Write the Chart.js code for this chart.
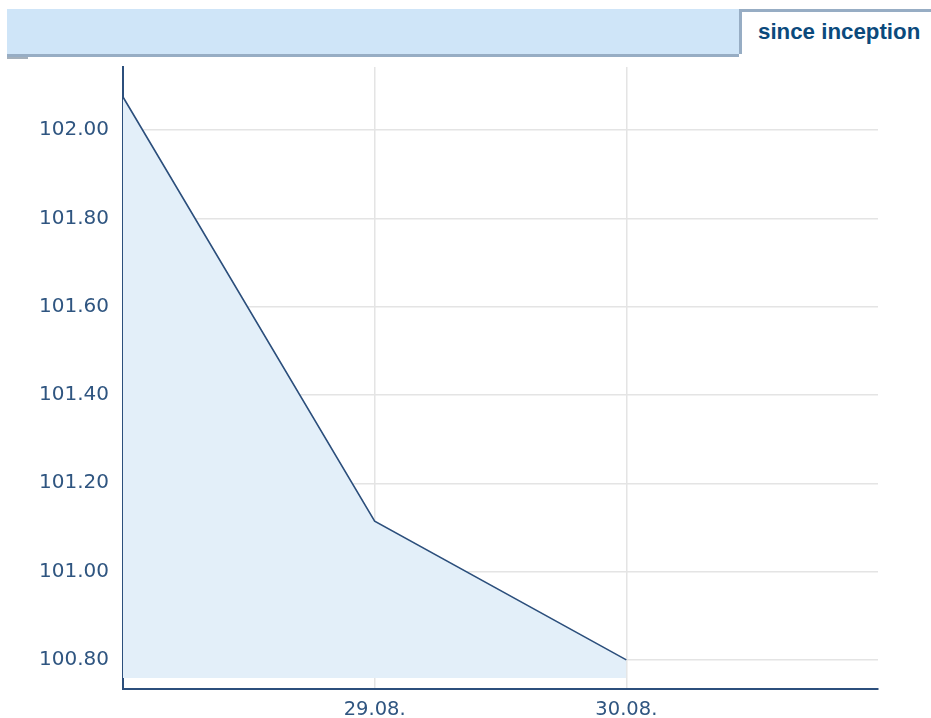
<!DOCTYPE html>
<html>
<head>
<meta charset="utf-8">
<script src="https://cdn.jsdelivr.net/npm/chart.js@4.4.1/dist/chart.umd.min.js"></script>
<style>
  html, body { margin: 0; padding: 0; background: #fff; width: 931px; height: 718px; overflow: hidden; }
  #bar { position: absolute; left: 7px; top: 9px; width: 732px; height: 45px; background: #cfe5f8; border-bottom: 3px solid #97adc4; }
  #tab { position: absolute; left: 739px; top: 9px; height: 45px; background: #fff; border-left: 3px solid #97adc4; border-top: 3px solid #97adc4;
         font-family: "Liberation Sans", Arial, sans-serif; font-weight: bold; font-size: 22.3px; color: #0b4a7c; line-height: 40px; padding-left: 16px; box-sizing: border-box; width: 192px; white-space: nowrap; }
  #shadow { position: absolute; left: 7px; top: 57px; width: 21px; height: 2px; background: #a5b0bb; }
  #wrap { position: absolute; left: 0; top: 0; width: 931px; height: 718px; }
</style>
</head>
<body>
<div id="bar"></div>
<div id="shadow"></div>
<div id="tab">since inception</div>
<div id="wrap"><canvas id="c"></canvas></div>
<script>
const dates = ['', '29.08.', '30.08.', ''];
const prices = [102.075, 101.114, 100.80, null];
const yTicks = [100.80, 101.00, 101.20, 101.40, 101.60, 101.80, 102.00];
const yMin = 100.734, yMax = 102.143, fillBase = 100.759;

const axisColor = '#2c4f7c';
const labelColor = '#2f5580';

new Chart(document.getElementById('c'), {
  type: 'line',
  data: {
    labels: dates,
    datasets: [{
      data: prices,
      borderColor: '#2c4f7c',
      borderWidth: 1.6,
      backgroundColor: '#e3eff9',
      fill: { value: fillBase },
      pointRadius: 0,
      tension: 0
    }]
  },
  options: {
    responsive: true,
    maintainAspectRatio: false,
    animation: false,
    events: [],
    layout: { padding: { top: 67, right: 53, left: 0, bottom: 0 } },
    plugins: { legend: { display: false }, tooltip: { enabled: false } },
    scales: {
      x: {
        offset: false,
        afterFit: s => { s.height = 29; },
        border: { display: true, color: axisColor, width: 2 },
        grid: {
          drawTicks: false,
          color: ctx => (ctx.index === 0 || ctx.index === dates.length - 1) ? 'rgba(0,0,0,0)' : '#e4e4e4',
          lineWidth: 1.5
        },
        ticks: {
          autoSkip: false, maxRotation: 0, padding: 9,
          color: labelColor,
          font: { family: '"DejaVu Sans", Verdana, sans-serif', size: 19.5 }
        }
      },
      y: {
        min: yMin, max: yMax,
        afterFit: s => { s.width = 123; },
        afterBuildTicks: s => { s.ticks = yTicks.map(v => ({ value: v })); },
        border: { display: true, color: axisColor, width: 2 },
        grid: { drawTicks: false, color: '#e4e4e4', lineWidth: 1.5 },
        ticks: {
          padding: 14,
          color: labelColor,
          font: { family: '"DejaVu Sans", Verdana, sans-serif', size: 20 },
          callback: v => Number(v).toFixed(2)
        }
      }
    }
  }
});
</script>
</body>
</html>
